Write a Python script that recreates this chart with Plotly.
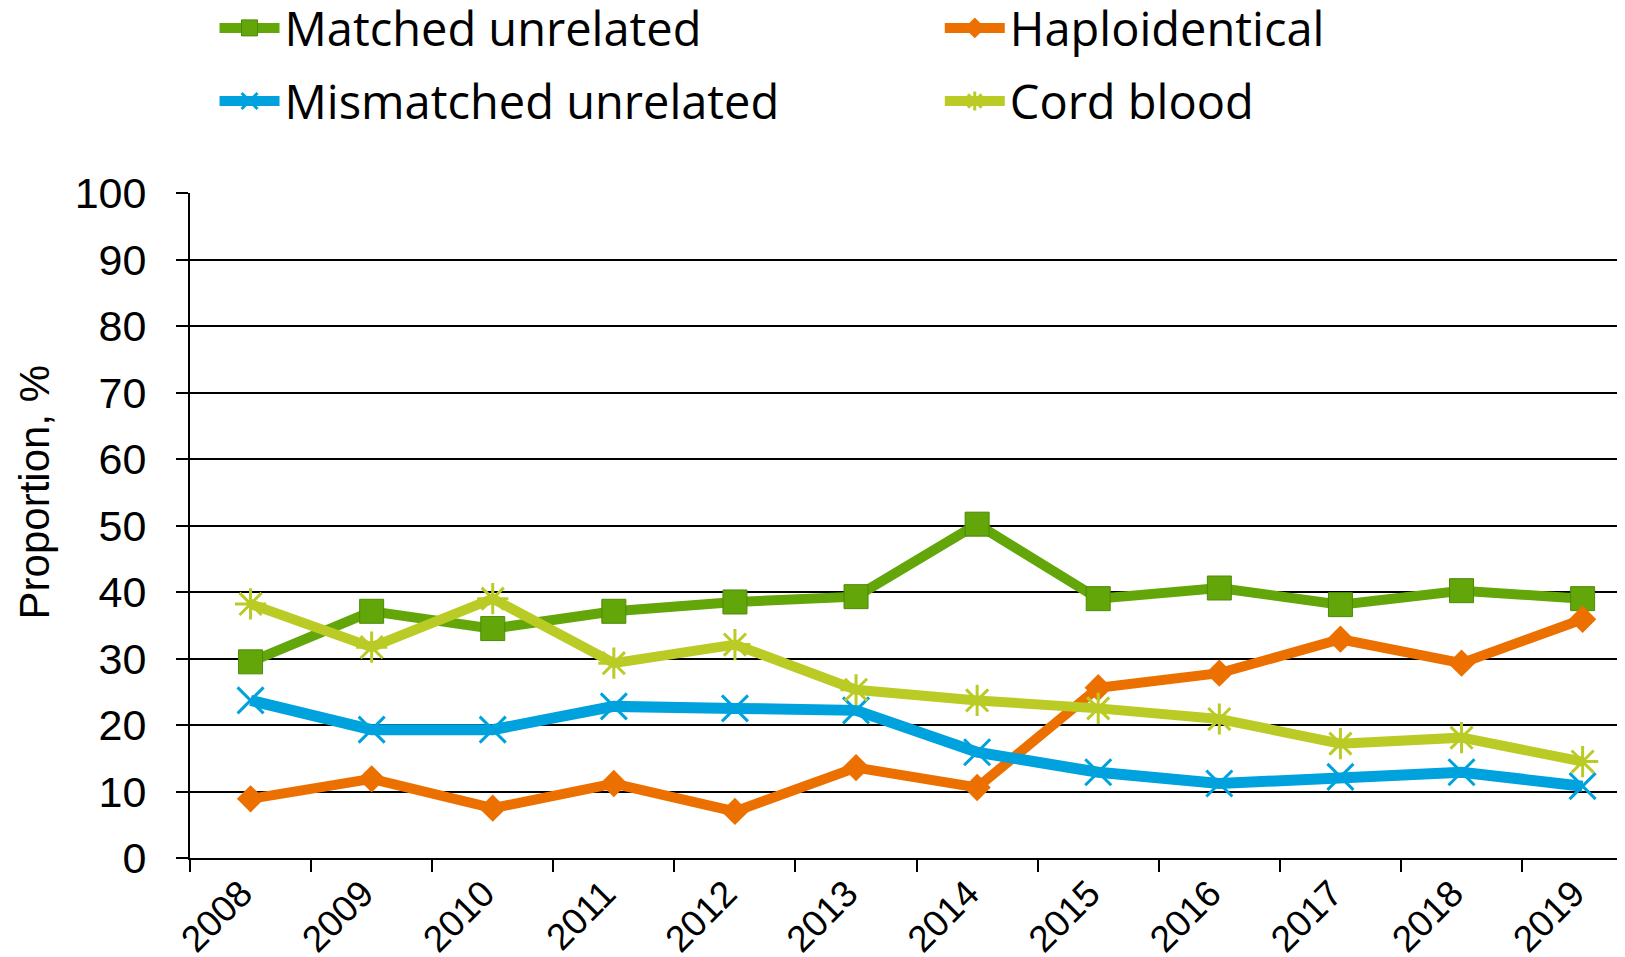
import plotly.graph_objects as go

years = [str(y) for y in range(2008, 2020)]

matched_unrelated = [29.5, 37.1, 34.5, 37.1, 38.5, 39.3, 50.2, 39.0, 40.6, 38.1, 40.2, 39.0]
haploidentical = [8.9, 11.9, 7.5, 11.2, 7.0, 13.6, 10.6, 25.6, 27.8, 32.9, 29.3, 35.9]
mismatched_unrelated = [23.7, 19.3, 19.3, 22.8, 22.5, 22.2, 15.9, 12.9, 11.2, 12.2, 12.9, 10.8]
cord_blood = [38.2, 31.7, 39.0, 29.3, 32.1, 25.3, 23.7, 22.5, 20.9, 17.2, 18.1, 14.5]

FONT = "Liberation Sans, Arial, sans-serif"
LEGEND_FONT = "Open Sans, Liberation Sans, sans-serif"

fig = go.Figure()

fig.add_trace(go.Scatter(
    x=years, y=matched_unrelated, name="Matched unrelated", mode="lines+markers",
    line=dict(color="#62A60A", width=10),
    marker=dict(symbol="square", size=24, color="#62A60A", line=dict(color="#4E8A08", width=1)),
    legend="legend", legendgroup="a",
))
fig.add_trace(go.Scatter(
    x=years, y=haploidentical, name="Haploidentical", mode="lines+markers",
    line=dict(color="#EB7000", width=10),
    marker=dict(symbol="diamond", size=21, color="#EB7000"),
    legend="legend2", legendgroup="b",
))
fig.add_trace(go.Scatter(
    x=years, y=mismatched_unrelated, name="Mismatched unrelated", mode="lines+markers",
    line=dict(color="#00A2DE", width=11),
    marker=dict(symbol="x-thin", size=26, color="#00A2DE", line=dict(color="#00A2DE", width=3)),
    legend="legend", legendgroup="c",
))
fig.add_trace(go.Scatter(
    x=years, y=cord_blood, name="Cord blood", mode="lines+markers",
    line=dict(color="#BACB25", width=10),
    marker=dict(symbol="asterisk", size=26, color="#BACB25", line=dict(color="#BACB25", width=3)),
    legend="legend2", legendgroup="d",
))

legend_style = dict(
    orientation="v", xanchor="left", yanchor="top", yref="paper", xref="paper",
    font=dict(family=LEGEND_FONT, size=47, color="black"), bgcolor="rgba(0,0,0,0)",
    itemwidth=60, tracegroupgap=9, traceorder="grouped",
)

fig.update_layout(
    width=1625, height=957,
    margin=dict(l=182, r=0, t=185, b=107, autoexpand=False),
    paper_bgcolor="white", plot_bgcolor="white",
    font=dict(family=FONT, color="black"),
    showlegend=True,
    legend=dict(x=0.017, y=1.304, **legend_style),
    legend2=dict(x=0.5196, y=1.304, **legend_style),
    xaxis=dict(
        type="category", range=[-0.5, 11.416],
        showline=True, linecolor="black", linewidth=2,
        ticks="outside", tickson="boundaries", ticklen=12, tickwidth=2, tickcolor="black",
        showgrid=False, tickangle=-45,
        tickfont=dict(family=FONT, size=37, color="black"),
        ticklabelstandoff=-3, ticklabelshift=-9,
    ),
    yaxis=dict(
        range=[0, 100], dtick=10,
        showline=True, linecolor="black", linewidth=2,
        ticks="outside", ticklen=12, tickwidth=2, tickcolor="black",
        showgrid=True, gridcolor="black", gridwidth=2, zeroline=False,
        tickfont=dict(family=FONT, size=43, color="black"),
        ticklabelstandoff=21,
    ),
    annotations=[dict(
        text="Proportion, %", textangle=-90, showarrow=False,
        xref="paper", yref="paper", x=-0.108, y=0.55,
        xanchor="center", yanchor="middle",
        font=dict(family=FONT, size=42, color="black"),
    )],
)

fig.write_html("out.html")
